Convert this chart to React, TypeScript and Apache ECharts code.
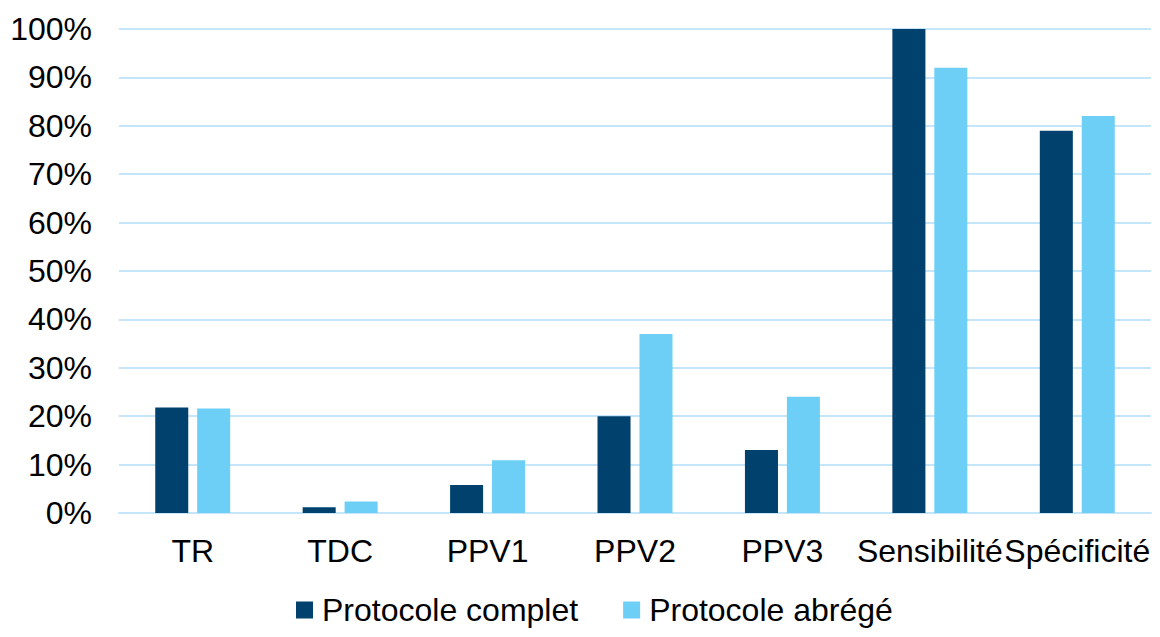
import React, { useEffect, useRef } from "react";
import * as echarts from "echarts";

const categories = ["TR", "TDC", "PPV1", "PPV2", "PPV3", "Sensibilité", "Spécificité"];
const seriesNames = ["Protocole complet", "Protocole abrégé"];
const complet = [21.8, 1.2, 5.8, 20, 13, 100, 79];
const abrege = [21.6, 2.4, 10.9, 37, 24, 92, 82];
const colors = ["#00416E", "#6DCFF6"];

export default function App() {
  const ref = useRef<HTMLDivElement>(null);
  useEffect(() => {
    if (!ref.current) return;
    const chart = echarts.init(ref.current, null, { renderer: "svg" });
    const font = "Liberation Sans, Arial, sans-serif";
    chart.setOption({
      animation: false,
      grid: { left: 119, right: 9, top: 29, bottom: 124, containLabel: false },
      legend: {
        top: 589,
        left: 291,
        itemWidth: 17,
        itemHeight: 17,
        itemGap: 45,
        icon: "rect",
        textStyle: { fontFamily: font, fontSize: 32, color: "#000", padding: [0, 0, 0, 4] },
        data: seriesNames,
      },
      xAxis: {
        type: "category",
        data: categories,
        axisTick: { show: false },
        axisLine: { lineStyle: { color: "#C5E5FB", width: 2 } },
        axisLabel: { fontFamily: font, fontSize: 32, color: "#000", margin: 22, interval: 0 },
      },
      yAxis: {
        type: "value",
        min: 0,
        max: 100,
        interval: 10,
        axisLine: { show: false },
        axisTick: { show: false },
        splitLine: { lineStyle: { color: "#C5E5FB", width: 2 } },
        axisLabel: { fontFamily: font, fontSize: 32, color: "#000", margin: 27, formatter: "{value}%" },
      },
      series: [
        {
          name: seriesNames[0],
          type: "bar",
          data: complet,
          barWidth: "22.4%",
          barGap: "27%",
          itemStyle: { color: colors[0] },
        },
        {
          name: seriesNames[1],
          type: "bar",
          data: abrege,
          barWidth: "22.4%",
          itemStyle: { color: colors[1] },
        },
      ],
    });
    return () => chart.dispose();
  }, []);
  return <div ref={ref} style={{ width: 1160, height: 637, position: "absolute", left: 0, top: 0 }} />;
}
